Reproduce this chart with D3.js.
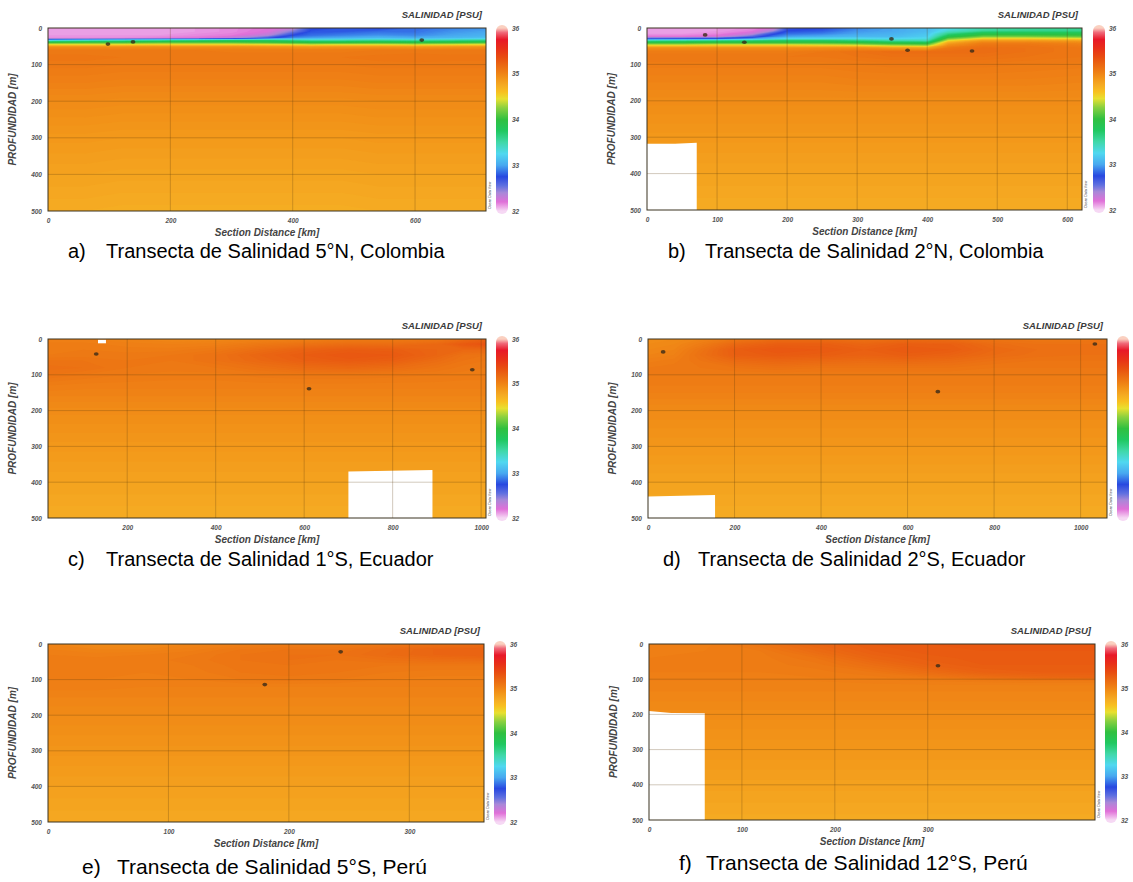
<!DOCTYPE html>
<html>
<head>
<meta charset="utf-8">
<script src="https://cdn.jsdelivr.net/npm/d3@7"></script>
<style>
	body { margin: 0; background: #fff; }
	svg { display: block; font-family: "Liberation Sans", Arial, sans-serif; }
	.ax text { font-weight: bold; font-style: italic; fill: #555; font-size: 6.5px; }
	.ax path { display: none; }
	.axis-label { font-weight: bold; font-style: italic; fill: #444; font-size: 10px; }
	.var-title { font-weight: bold; font-style: italic; fill: #3a3a3a; font-size: 9.5px; }
	.caption { fill: #000; }
</style>
</head>
<body>
<svg id="viz" width="1133" height="882"></svg>
<script>

// ---------- colour bar (salinity, PSU) ----------
const cbarVals = [32.0, 32.2, 32.4, 32.55, 32.75, 33.0, 33.25, 33.5, 33.75, 34.0, 34.25, 34.45, 34.6, 34.75, 34.9, 35.05, 35.2, 35.35, 35.55, 35.75, 35.9, 36.0];
const cbarCols = ["#f6d8f4", "#e070d8", "#a888d8", "#6070e0", "#2848e0", "#48a8f0", "#50d8f0", "#40d8a8", "#20c860", "#30c040", "#88d040", "#e8e030", "#f8c020", "#f5aa22", "#f29418", "#ee7c14", "#ea6612", "#e84e10", "#e83018", "#e81828", "#f06878", "#fad0c0"];
const cbarTicks = [36, 35, 34, 33, 32];
const yTicks = [0, 100, 200, 300, 400, 500];

const letters = ["a)", "b)", "c)", "d)", "e)", "f)"];
const titles = [
	"Transecta de Salinidad 5°N, Colombia",
	"Transecta de Salinidad 2°N, Colombia",
	"Transecta de Salinidad 1°S, Ecuador",
	"Transecta de Salinidad 2°S, Ecuador",
	"Transecta de Salinidad 5°S, Perú",
	"Transecta de Salinidad 12°S, Perú"
];

// ---------- a) 5°N Colombia ----------
const xDomainA = [0, 716];
const xTicksA = [0, 200, 400, 600];
const distA = [0, 60, 120, 180, 240, 300, 360, 400, 430, 480, 540, 600, 660, 716];
const depthA = [0, 10, 20, 28, 34, 40, 46, 52, 60, 80, 100, 150, 200, 300, 400, 500];
const salA = [
	[32.10, 32.10, 32.10, 32.10, 32.12, 32.15, 32.20, 32.30, 32.72, 32.78, 32.74, 32.84, 32.90, 32.95],
	[32.10, 32.10, 32.10, 32.10, 32.12, 32.15, 32.22, 32.50, 32.78, 32.80, 32.85, 32.86, 32.95, 33.00],
	[32.12, 32.12, 32.12, 32.12, 32.15, 32.18, 32.35, 32.75, 32.85, 32.90, 32.95, 32.92, 33.00, 33.05],
	[32.15, 32.15, 32.15, 32.18, 32.20, 32.35, 32.70, 32.95, 33.00, 33.05, 33.10, 33.05, 33.10, 33.15],
	[33.20, 33.30, 33.40, 33.50, 33.60, 33.70, 33.70, 33.60, 33.50, 33.50, 33.55, 33.50, 33.55, 33.60],
	[34.00, 34.05, 34.05, 34.10, 34.10, 34.10, 34.05, 34.00, 33.95, 33.95, 34.00, 33.95, 34.00, 34.05],
	[34.50, 34.50, 34.50, 34.55, 34.55, 34.55, 34.50, 34.45, 34.40, 34.45, 34.45, 34.40, 34.45, 34.50],
	[34.95, 34.95, 34.95, 34.95, 34.95, 34.95, 34.92, 34.90, 34.88, 34.90, 34.90, 34.88, 34.90, 34.92],
	[35.06, 35.06, 35.06, 35.06, 35.06, 35.05, 35.05, 35.05, 35.05, 35.05, 35.06, 35.06, 35.06, 35.06],
	[35.09, 35.09, 35.08, 35.08, 35.08, 35.08, 35.08, 35.08, 35.08, 35.08, 35.09, 35.10, 35.09, 35.09],
	[35.07, 35.07, 35.06, 35.06, 35.06, 35.06, 35.06, 35.06, 35.06, 35.06, 35.07, 35.07, 35.07, 35.07],
	[35.02, 35.02, 35.01, 35.01, 35.01, 35.01, 35.01, 35.01, 35.01, 35.01, 35.02, 35.02, 35.02, 35.02],
	[34.96, 34.96, 34.95, 34.95, 34.95, 34.95, 34.95, 34.95, 34.95, 34.95, 34.96, 34.96, 34.96, 34.96],
	[34.87, 34.87, 34.86, 34.86, 34.86, 34.86, 34.86, 34.86, 34.86, 34.86, 34.87, 34.87, 34.87, 34.87],
	[34.80, 34.80, 34.79, 34.79, 34.79, 34.79, 34.79, 34.79, 34.79, 34.79, 34.80, 34.80, 34.80, 34.80],
	[34.74, 34.74, 34.73, 34.73, 34.73, 34.73, 34.73, 34.73, 34.73, 34.73, 34.74, 34.74, 34.74, 34.74]
];
const gapsA = [];
const stationsA = [[98, 44], [139, 38], [611, 33]];

// ---------- b) 2°N Colombia ----------
const xDomainB = [0, 621];
const xTicksB = [0, 100, 200, 300, 400, 500, 600];
const distB = [0, 50, 100, 150, 180, 200, 250, 300, 350, 400, 430, 480, 540, 621];
const depthB = [0, 8, 16, 24, 30, 36, 42, 48, 55, 65, 80, 100, 150, 200, 300, 400, 500];
const salB = [
	[32.10, 32.10, 32.12, 32.15, 32.25, 32.70, 32.75, 32.90, 33.00, 33.10, 33.25, 33.45, 33.50, 33.55],
	[32.10, 32.10, 32.12, 32.18, 32.40, 32.75, 32.80, 32.95, 33.00, 33.10, 33.35, 33.55, 33.60, 33.60],
	[32.12, 32.12, 32.15, 32.30, 32.70, 32.85, 32.90, 33.00, 33.05, 33.15, 33.60, 33.90, 33.90, 33.90],
	[32.20, 32.20, 32.25, 32.60, 32.90, 33.00, 33.05, 33.10, 33.10, 33.20, 33.90, 34.20, 34.20, 34.15],
	[32.70, 32.75, 32.80, 33.00, 33.20, 33.30, 33.30, 33.30, 33.25, 33.30, 34.20, 34.55, 34.55, 34.50],
	[33.60, 33.65, 33.70, 33.75, 33.80, 33.80, 33.80, 33.70, 33.55, 33.50, 34.50, 34.90, 34.90, 34.85],
	[34.05, 34.05, 34.10, 34.10, 34.10, 34.10, 34.10, 34.05, 33.95, 33.90, 34.80, 35.05, 35.05, 35.00],
	[34.50, 34.50, 34.55, 34.55, 34.55, 34.55, 34.50, 34.45, 34.30, 34.25, 34.95, 35.10, 35.10, 35.05],
	[34.95, 34.95, 34.95, 34.95, 34.95, 34.95, 34.95, 34.95, 34.85, 34.80, 35.08, 35.15, 35.12, 35.08],
	[35.05, 35.05, 35.05, 35.05, 35.05, 35.05, 35.08, 35.12, 35.15, 35.15, 35.15, 35.15, 35.12, 35.08],
	[35.08, 35.08, 35.08, 35.08, 35.08, 35.08, 35.08, 35.10, 35.12, 35.12, 35.12, 35.12, 35.10, 35.08],
	[35.05, 35.05, 35.05, 35.05, 35.05, 35.05, 35.05, 35.06, 35.07, 35.07, 35.07, 35.07, 35.06, 35.05],
	[35.00, 35.00, 35.00, 35.00, 35.00, 35.00, 35.00, 35.01, 35.01, 35.01, 35.01, 35.01, 35.01, 35.00],
	[34.95, 34.95, 34.95, 34.95, 34.95, 34.95, 34.95, 34.95, 34.95, 34.95, 34.95, 34.95, 34.95, 34.95],
	[34.87, 34.87, 34.87, 34.87, 34.87, 34.87, 34.87, 34.87, 34.87, 34.87, 34.87, 34.87, 34.87, 34.87],
	[34.80, 34.80, 34.80, 34.80, 34.80, 34.80, 34.80, 34.80, 34.80, 34.80, 34.80, 34.80, 34.80, 34.80],
	[34.74, 34.74, 34.74, 34.74, 34.74, 34.74, 34.74, 34.74, 34.74, 34.74, 34.74, 34.74, 34.74, 34.74]
];
const gapsB = [[[0, 500], [0, 318], [40, 318], [71, 315], [71, 500]]];
const stationsB = [[83, 19], [139, 39], [349, 30], [372, 61], [464, 63]];

// ---------- c) 1°S Ecuador ----------
const xDomainC = [21, 1011];
const xTicksC = [200, 400, 600, 800, 1000];
const distC = [21, 100, 200, 300, 400, 500, 600, 700, 800, 900, 960, 1011];
const depthC = [0, 15, 30, 45, 60, 80, 100, 130, 160, 200, 300, 400, 500];
const salC = [
	[35.02, 35.02, 35.00, 34.98, 34.98, 35.00, 35.02, 35.05, 35.05, 35.08, 35.15, 35.22],
	[35.05, 35.05, 35.03, 35.02, 35.03, 35.08, 35.12, 35.15, 35.15, 35.18, 35.28, 35.32],
	[35.05, 35.06, 35.05, 35.05, 35.08, 35.15, 35.22, 35.26, 35.25, 35.20, 35.18, 35.18],
	[35.06, 35.07, 35.07, 35.08, 35.12, 35.20, 35.26, 35.30, 35.28, 35.20, 35.12, 35.10],
	[35.10, 35.10, 35.08, 35.08, 35.12, 35.18, 35.24, 35.27, 35.24, 35.15, 35.10, 35.08],
	[35.13, 35.12, 35.08, 35.07, 35.08, 35.12, 35.16, 35.18, 35.15, 35.10, 35.07, 35.06],
	[35.10, 35.08, 35.06, 35.05, 35.05, 35.07, 35.08, 35.08, 35.07, 35.06, 35.05, 35.05],
	[35.04, 35.03, 35.03, 35.03, 35.03, 35.03, 35.03, 35.03, 35.03, 35.03, 35.03, 35.03],
	[35.00, 35.00, 35.00, 35.00, 35.00, 35.00, 35.00, 35.00, 35.00, 35.00, 35.00, 35.00],
	[34.95, 34.95, 34.95, 34.95, 34.95, 34.95, 34.95, 34.95, 34.95, 34.95, 34.95, 34.95],
	[34.87, 34.87, 34.87, 34.87, 34.87, 34.87, 34.87, 34.87, 34.87, 34.87, 34.87, 34.87],
	[34.80, 34.80, 34.80, 34.80, 34.80, 34.80, 34.80, 34.80, 34.80, 34.80, 34.80, 34.80],
	[34.74, 34.74, 34.74, 34.74, 34.74, 34.74, 34.74, 34.74, 34.74, 34.74, 34.74, 34.74]
];
const gapsC = [
	[[700, 500], [700, 370], [890, 366], [890, 500]],
	[[134, 2], [152, 2], [152, 12], [134, 12]]
];
const stationsC = [[130, 42], [611, 139], [980, 86]];

// ---------- d) 2°S Ecuador ----------
const xDomainD = [0, 1061];
const xTicksD = [0, 200, 400, 600, 800, 1000];
const distD = [0, 60, 120, 200, 300, 400, 500, 600, 700, 800, 900, 1000, 1061];
const depthD = [0, 15, 30, 45, 60, 80, 100, 130, 160, 200, 300, 400, 500];
const salD = [
	[34.95, 34.96, 35.00, 35.08, 35.15, 35.15, 35.12, 35.15, 35.15, 35.10, 35.08, 35.08, 35.10],
	[34.96, 34.98, 35.05, 35.18, 35.25, 35.25, 35.20, 35.25, 35.24, 35.15, 35.12, 35.12, 35.12],
	[34.98, 35.00, 35.10, 35.25, 35.30, 35.28, 35.24, 35.28, 35.26, 35.18, 35.14, 35.14, 35.14],
	[35.00, 35.02, 35.12, 35.24, 35.27, 35.25, 35.22, 35.25, 35.22, 35.16, 35.13, 35.12, 35.12],
	[35.03, 35.05, 35.10, 35.17, 35.20, 35.18, 35.16, 35.18, 35.16, 35.12, 35.10, 35.10, 35.10],
	[35.06, 35.07, 35.08, 35.10, 35.12, 35.10, 35.10, 35.10, 35.10, 35.08, 35.08, 35.08, 35.08],
	[35.06, 35.06, 35.06, 35.06, 35.06, 35.06, 35.06, 35.06, 35.06, 35.06, 35.06, 35.06, 35.06],
	[35.04, 35.04, 35.04, 35.04, 35.04, 35.04, 35.04, 35.04, 35.04, 35.04, 35.04, 35.04, 35.04],
	[35.01, 35.01, 35.01, 35.01, 35.01, 35.01, 35.01, 35.01, 35.01, 35.01, 35.01, 35.01, 35.01],
	[34.96, 34.96, 34.96, 34.96, 34.96, 34.96, 34.96, 34.96, 34.96, 34.96, 34.96, 34.96, 34.96],
	[34.88, 34.88, 34.88, 34.88, 34.88, 34.88, 34.88, 34.88, 34.88, 34.88, 34.88, 34.88, 34.88],
	[34.80, 34.80, 34.80, 34.80, 34.80, 34.80, 34.80, 34.80, 34.80, 34.80, 34.80, 34.80, 34.80],
	[34.74, 34.74, 34.74, 34.74, 34.74, 34.74, 34.74, 34.74, 34.74, 34.74, 34.74, 34.74, 34.74]
];
const gapsD = [[[0, 500], [0, 440], [155, 436], [155, 500]]];
const stationsD = [[35, 36], [670, 147], [1033, 14]];

// ---------- e) 5°S Perú ----------
const xDomainE = [0, 362];
const xTicksE = [0, 100, 200, 300];
const distE = [0, 40, 80, 120, 160, 200, 240, 280, 320, 362];
const depthE = [0, 15, 30, 45, 60, 80, 100, 120, 150, 200, 300, 400, 500];
const salE = [
	[35.00, 34.96, 34.96, 35.00, 35.03, 35.05, 35.05, 35.08, 35.12, 35.15],
	[35.02, 35.00, 35.00, 35.03, 35.08, 35.10, 35.10, 35.15, 35.20, 35.22],
	[35.04, 35.03, 35.04, 35.06, 35.10, 35.12, 35.12, 35.16, 35.20, 35.22],
	[35.05, 35.05, 35.05, 35.07, 35.10, 35.12, 35.10, 35.12, 35.14, 35.15],
	[35.05, 35.05, 35.05, 35.06, 35.09, 35.10, 35.09, 35.08, 35.08, 35.08],
	[35.05, 35.05, 35.04, 35.05, 35.08, 35.09, 35.08, 35.06, 35.05, 35.05],
	[35.04, 35.04, 35.03, 35.04, 35.06, 35.07, 35.06, 35.04, 35.03, 35.03],
	[35.03, 35.03, 35.02, 35.02, 35.02, 35.02, 35.02, 35.02, 35.02, 35.02],
	[35.00, 35.00, 35.00, 35.00, 35.00, 35.00, 35.00, 35.00, 35.00, 35.00],
	[34.96, 34.96, 34.96, 34.96, 34.96, 34.96, 34.96, 34.96, 34.96, 34.96],
	[34.89, 34.89, 34.89, 34.89, 34.89, 34.89, 34.89, 34.89, 34.89, 34.89],
	[34.82, 34.82, 34.82, 34.82, 34.82, 34.82, 34.82, 34.82, 34.82, 34.82],
	[34.76, 34.76, 34.76, 34.76, 34.76, 34.76, 34.76, 34.76, 34.76, 34.76]
];
const gapsE = [];
const stationsE = [[243, 22], [180, 114]];

// ---------- f) 12°S Perú ----------
const xDomainF = [0, 480];
const xTicksF = [0, 100, 200, 300];
const distF = [0, 60, 120, 180, 240, 300, 360, 420, 480];
const depthF = [0, 20, 40, 60, 80, 95, 105, 120, 150, 200, 300, 400, 500];
const salF = [
	[35.02, 35.03, 35.10, 35.20, 35.26, 35.28, 35.28, 35.28, 35.28],
	[35.03, 35.04, 35.06, 35.16, 35.24, 35.27, 35.28, 35.28, 35.28],
	[35.04, 35.04, 35.05, 35.10, 35.20, 35.25, 35.27, 35.27, 35.27],
	[35.04, 35.04, 35.05, 35.07, 35.14, 35.22, 35.26, 35.26, 35.26],
	[35.04, 35.04, 35.04, 35.05, 35.08, 35.15, 35.22, 35.24, 35.24],
	[35.03, 35.03, 35.03, 35.04, 35.05, 35.08, 35.14, 35.18, 35.20],
	[35.02, 35.02, 35.02, 35.02, 35.03, 35.04, 35.05, 35.06, 35.06],
	[35.01, 35.01, 35.01, 35.01, 35.01, 35.01, 35.01, 35.01, 35.01],
	[34.99, 34.99, 34.99, 34.99, 34.99, 34.99, 34.99, 34.99, 34.99],
	[34.95, 34.95, 34.95, 34.95, 34.95, 34.95, 34.95, 34.95, 34.95],
	[34.88, 34.88, 34.88, 34.88, 34.88, 34.88, 34.88, 34.88, 34.88],
	[34.81, 34.81, 34.81, 34.81, 34.81, 34.81, 34.81, 34.81, 34.81],
	[34.75, 34.75, 34.75, 34.75, 34.75, 34.75, 34.75, 34.75, 34.75]
];
const gapsF = [[[0, 500], [0, 190], [24, 196], [60, 197], [60, 500]]];
const stationsF = [[311, 62]];

// panel boxes on the page (plot area, colour bar, caption)
const layout = [
	{left: 48,  top: 28,  right: 486,  bottom: 211, barX: 496,  barLabels: true,  capX: 68,  titleX: 106, capY: 258, capSize: 20},
	{left: 647, top: 28,  right: 1082, bottom: 210, barX: 1093, barLabels: true,  capX: 668, titleX: 705, capY: 258, capSize: 20},
	{left: 48,  top: 339, right: 486,  bottom: 518, barX: 496,  barLabels: true,  capX: 68,  titleX: 106, capY: 566, capSize: 20},
	{left: 648, top: 339, right: 1107, bottom: 518, barX: 1117, barLabels: false, capX: 663, titleX: 698, capY: 566, capSize: 20},
	{left: 48,  top: 644, right: 484,  bottom: 822, barX: 494,  barLabels: true,  capX: 82,  titleX: 117, capY: 874, capSize: 21},
	{left: 649, top: 644, right: 1095, bottom: 820, barX: 1105, barLabels: true,  capX: 679, titleX: 706, capY: 870, capSize: 21}
];

const panels = [
	{dist: distA, depth: depthA, sal: salA, gaps: gapsA, stations: stationsA, xDomain: xDomainA, xTicks: xTicksA},
	{dist: distB, depth: depthB, sal: salB, gaps: gapsB, stations: stationsB, xDomain: xDomainB, xTicks: xTicksB},
	{dist: distC, depth: depthC, sal: salC, gaps: gapsC, stations: stationsC, xDomain: xDomainC, xTicks: xTicksC},
	{dist: distD, depth: depthD, sal: salD, gaps: gapsD, stations: stationsD, xDomain: xDomainD, xTicks: xTicksD},
	{dist: distE, depth: depthE, sal: salE, gaps: gapsE, stations: stationsE, xDomain: xDomainE, xTicks: xTicksE},
	{dist: distF, depth: depthF, sal: salF, gaps: gapsF, stations: stationsF, xDomain: xDomainF, xTicks: xTicksF}
];

const svg = d3.select("svg#viz");

const color = d3.scaleLinear()
	.domain(cbarVals)
	.range(cbarCols)
	.clamp(true);

const step = 0.02;
const thresholds = d3.range(31.9, 36.1, step);

let translate = function(x, y) {
	return 'translate(' + x + ',' + y + ')';
};

let drawPanel = function(p, L, k) {
	const w = L.right - L.left;
	const h = L.bottom - L.top;

	const x = d3.scaleLinear().domain(p.xDomain).range([0, w]);
	const y = d3.scaleLinear().domain([0, 500]).range([0, h]);

	const g = svg.append("g").attr("transform", translate(L.left, L.top));

	g.append("clipPath").attr("id", "clip" + k)
		.append("rect").attr("width", w).attr("height", h);

	const field = g.append("g").attr("clip-path", "url(#clip" + k + ")");

	// contour the gridded section
	const nx = p.dist.length, ny = p.depth.length;
	const values = [];
	p.sal.forEach(row => row.forEach(v => values.push(v)));

	const contours = d3.contours().size([nx, ny]).thresholds(thresholds)(values);

	// grid index -> km / m
	const ix = d3.scaleLinear().domain(d3.range(nx)).range(p.dist).clamp(true);
	const iy = d3.scaleLinear().domain(d3.range(ny)).range(p.depth).clamp(true);
	const proj = d3.geoTransform({
		point: function(px, py) { this.stream.point(x(ix(px - 0.5)), y(iy(py - 0.5))); }
	});
	const path = d3.geoPath(proj);

	field.selectAll("path.c")
		.data(contours.filter(c => c.coordinates.length))
		.join("path")
		.attr("class", "c")
		.attr("d", path)
		.attr("fill", d => color(d.value + step / 2));

	// missing data / bottom
	const line = d3.line().x(d => x(d[0])).y(d => y(d[1]));
	field.selectAll("path.gap")
		.data(p.gaps)
		.join("path")
		.attr("class", "gap")
		.attr("d", d => line(d) + "Z")
		.attr("fill", "#fff");

	// grid
	field.selectAll("line.gx")
		.data(p.xTicks.filter(t => t > p.xDomain[0]))
		.join("line")
		.attr("x1", d => x(d)).attr("x2", d => x(d))
		.attr("y1", 0).attr("y2", h)
		.attr("stroke", "#5a3a10").attr("stroke-opacity", 0.35).attr("stroke-width", 0.8);

	field.selectAll("line.gy")
		.data(yTicks.filter(t => t > 0 && t < 500))
		.join("line")
		.attr("x1", 0).attr("x2", w)
		.attr("y1", d => y(d)).attr("y2", d => y(d))
		.attr("stroke", "#5a3a10").attr("stroke-opacity", 0.35).attr("stroke-width", 0.8);

	// stations
	field.selectAll("ellipse")
		.data(p.stations)
		.join("ellipse")
		.attr("cx", d => x(d[0])).attr("cy", d => y(d[1]))
		.attr("rx", 2.4).attr("ry", 1.8)
		.attr("fill", "#3a2a18").attr("fill-opacity", 0.8);

	g.append("rect")
		.attr("width", w).attr("height", h)
		.attr("fill", "none").attr("stroke", "#3a3320").attr("stroke-width", 1);

	// axes
	g.append("g").attr("class", "ax")
		.attr("transform", translate(0, h))
		.call(d3.axisBottom(x).tickValues(p.xTicks).tickFormat(d3.format("d")).tickSize(0).tickPadding(7));

	g.append("g").attr("class", "ax")
		.call(d3.axisLeft(y).tickValues(yTicks).tickFormat(d3.format("d")).tickSize(0).tickPadding(6));

	g.append("text").attr("class", "axis-label")
		.attr("x", w / 2).attr("y", h + 25)
		.attr("text-anchor", "middle")
		.text("Section Distance [km]");

	g.append("text").attr("class", "axis-label")
		.attr("transform", "translate(-32," + (h / 2) + ") rotate(-90)")
		.attr("text-anchor", "middle")
		.text("PROFUNDIDAD [m]");

	g.append("text").attr("class", "var-title")
		.attr("x", w - 4).attr("y", -10)
		.attr("text-anchor", "end")
		.text("SALINIDAD [PSU]");

	// ODV mark
	g.append("text")
		.attr("transform", "translate(" + (w + 5) + "," + (h - 2) + ") rotate(-90)")
		.attr("font-size", 3.5).attr("fill", "#444")
		.text("Ocean Data View");

	// colour bar
	const c = d3.scaleLinear().domain([32, 36]).range([h, 0]);
	const bx = L.barX - L.left;
	const grad = g.append("linearGradient").attr("id", "grad" + k)
		.attr("gradientUnits", "userSpaceOnUse")
		.attr("x1", 0).attr("x2", 0).attr("y1", c(36)).attr("y2", c(32));
	// stops must run with increasing offset (36 at the top)
	grad.selectAll("stop")
		.data(cbarVals.map((v, i) => [v, cbarCols[i]]).reverse())
		.join("stop")
		.attr("offset", d => (36 - d[0]) / 4)
		.attr("stop-color", d => d[1]);

	g.append("rect")
		.attr("x", bx).attr("y", c(36) - 3)
		.attr("width", 12).attr("height", c(32) - c(36) + 6)
		.attr("rx", 6)
		.attr("fill", "url(#grad" + k + ")");

	if (L.barLabels) {
		g.append("g").attr("class", "ax")
			.attr("transform", translate(bx + 12, 0))
			.call(d3.axisRight(c).tickValues(cbarTicks).tickFormat(d3.format("d")).tickSize(0).tickPadding(4));
	}

	// caption
	svg.append("text").attr("class", "caption")
		.attr("x", L.capX).attr("y", L.capY)
		.attr("font-size", L.capSize)
		.text(letters[k]);
	svg.append("text").attr("class", "caption")
		.attr("x", L.titleX).attr("y", L.capY)
		.attr("font-size", L.capSize)
		.text(titles[k]);
};

panels.forEach((p, k) => drawPanel(p, layout[k], k));

</script>
</body>
</html>
